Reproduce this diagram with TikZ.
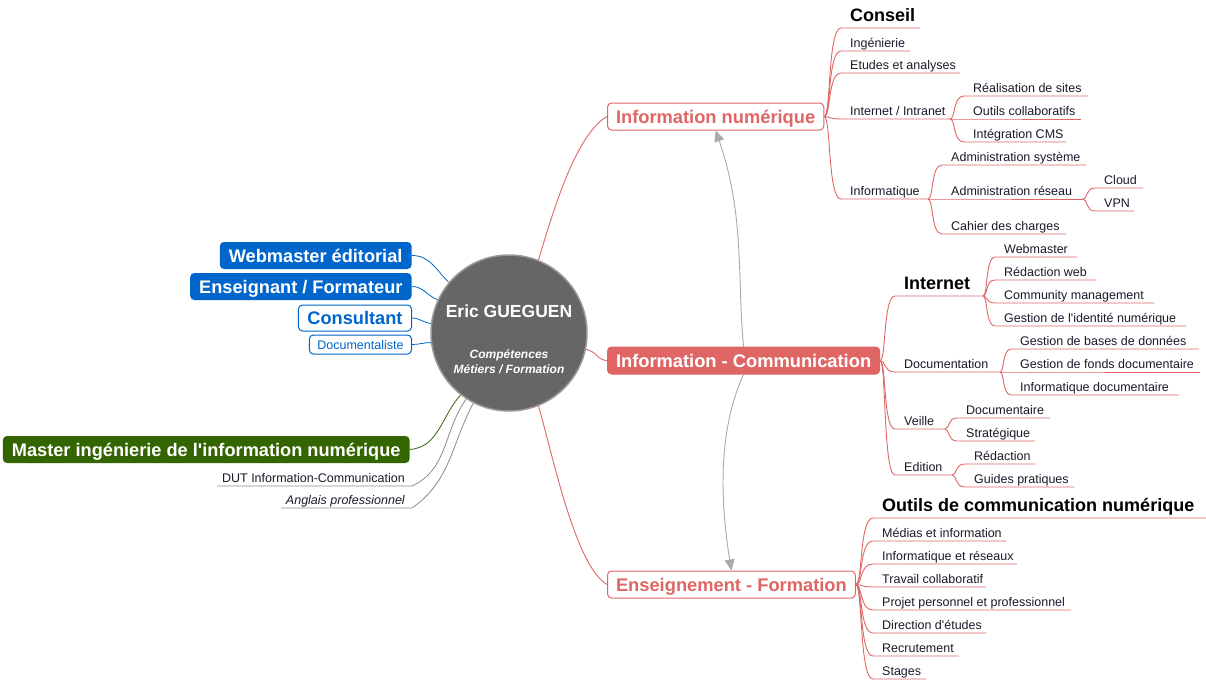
\documentclass[tikz,border=0pt]{standalone}
\usepackage{fontspec}
\setmainfont{Liberation Sans}
\usetikzlibrary{calc,arrows.meta}
\definecolor{mmred}{HTML}{E06666}
\definecolor{mmblue}{HTML}{0066CC}
\definecolor{mmgreen}{HTML}{336600}
\definecolor{mmgray}{HTML}{666666}
\definecolor{linegray}{HTML}{8C8C8C}
\definecolor{arrowgray}{HTML}{AAAAAA}
\definecolor{ringgray}{HTML}{9A9A9A}
\definecolor{leaftext}{HTML}{1A1A2A}
\pgfdeclarelayer{bg}
\pgfsetlayers{bg,main}
\tikzset{
  leaf/.style={inner sep=0pt, font=\fontsize{12.5}{15}\selectfont, text=leaftext},
  headleaf/.style={inner sep=0pt, font=\fontsize{18}{21}\selectfont\bfseries, text=black, yshift=3pt},
  branch/.style={draw=mmred, line width=0.9pt},
  mainbox/.style={rounded corners=4pt, minimum height=27pt, inner xsep=8.5pt, inner ysep=0pt,
    text height=13pt, text depth=0pt,
    font=\fontsize{18.3}{21}\selectfont\bfseries, line width=1pt, draw=mmred},
  lbox/.style={rounded corners=4pt, minimum height=27pt, inner xsep=9pt, inner ysep=0pt,
    text height=13pt, text depth=0pt,
    font=\fontsize{18.2}{21}\selectfont\bfseries, line width=1pt, anchor=east},
  blueconn/.style={draw=mmblue, line width=0.8pt},
  grayconn/.style={draw=linegray, line width=0.8pt},
  arrowline/.style={draw=arrowgray, line width=0.9pt, -{Triangle[length=11pt,width=10pt]}},
}
\newcommand\leafnode[7]{%
  \node[#2, anchor=base west] (#1) at (#3,#4-4) {#6};
  \coordinate (#1-s) at (#3-9,#4);
  \coordinate (#1-e) at (#5,#4);
  \begin{pgfonlayer}{bg}
  \draw[branch] (#7) .. controls ($(#7)!0.4!(#7 -| #1-s)$) and ($(#7 |- #1-s)!0.2!(#1-s)$) .. (#1-s) -- (#1-e);
  \end{pgfonlayer}
}
\begin{document}
\begin{tikzpicture}[x=1pt,y=-1pt]
\begin{pgfonlayer}{bg}
\fill[white] (0,0) rectangle (1206,680);
\end{pgfonlayer}
\useasboundingbox (0,0) rectangle (1206,680);

% centre
\node[circle, fill=mmgray, draw=ringgray, line width=1.5pt, minimum size=156pt, inner sep=0pt] (c) at (509,333) {};
\node[font=\fontsize{17.5}{20}\selectfont\bfseries, text=white] (cname) at (509,311) {Eric GUEGUEN};
\node[font=\fontsize{12}{15}\selectfont\bfseries\itshape, text=white, align=center] (csub) at (509,361.5) {Compétences\\Métiers / Formation};

% left boxes
\node[lbox, fill=mmblue, text=white] (wm) at (412,255.5) {Webmaster éditorial};
\node[lbox, fill=mmblue, text=white] (ensf) at (412,286.5) {Enseignant / Formateur};
\node[lbox, fill=white, draw=mmblue, text=mmblue, minimum height=26pt] (cons) at (412,318) {Consultant};
\node[lbox, fill=white, draw=mmblue, text=mmblue, minimum height=19pt, inner xsep=8pt,
  text height=9pt, font=\fontsize{12.5}{15}\selectfont] (docl) at (412,344.5) {Documentaliste};
\node[lbox, fill=mmgreen, text=white] (master) at (410,449.5) {Master ingénierie de l\textquotesingle information numérique};
\node[leaf, anchor=base east] (dut) at (405,482) {DUT Information-Communication};
\coordinate (dut-s) at (217,486);
\coordinate (dut-e) at (412,486);
\node[leaf, anchor=base east, font=\fontsize{12.5}{15}\selectfont\itshape] (ang) at (405,504) {Anglais professionnel};
\coordinate (ang-s) at (281,508);
\coordinate (ang-e) at (412,508);

% main boxes
\node[mainbox, fill=white, text=mmred, anchor=west] (inum) at (607,116.5) {Information numérique};
\node[mainbox, fill=mmred, text=white, anchor=west] (icom) at (607,360.5) {Information - Communication};
\node[mainbox, fill=white, text=mmred, anchor=west] (ens) at (607,584.5) {Enseignement - Formation};

\begin{pgfonlayer}{bg}
\draw[blueconn] (wm.east) to[out=0,in=135] (c.140);
\draw[blueconn] (ensf.east) to[out=0,in=160] (c.155);
\draw[blueconn] (cons.east) to[out=0,in=175] (c.173);
\draw[blueconn] (docl.east) to[out=0,in=180] (c.187);
\draw[draw=mmgreen, line width=0.8pt] (master.east) to[out=5,in=228] (c.232);
\draw[grayconn] (dut-s) -- (dut-e) to[out=25,in=235] (c.237);
\draw[grayconn] (ang-s) -- (ang-e) to[out=35,in=242] (c.243);
\draw[branch] (c.68) .. controls (552,215) and (575,135) .. (inum.west);
\draw[branch] (c.-12) .. controls (596,351) and (598,360.5) .. (icom.west);
\draw[branch] (c.-68) .. controls (552,452) and (575,566) .. (ens.west);
\end{pgfonlayer}

% Information numerique
\leafnode{conseil}{headleaf}{850}{28}{920}{Conseil}{inum.east}
\leafnode{inge}{leaf}{850}{51}{910}{Ingénierie}{inum.east}
\leafnode{etudes}{leaf}{850}{73}{960}{Etudes et analyses}{inum.east}
\leafnode{intra}{leaf}{850}{119}{950}{Internet / Intranet}{inum.east}
\leafnode{real}{leaf}{973}{96}{1088}{Réalisation de sites}{intra-e}
\leafnode{outils}{leaf}{973}{119}{1081}{Outils collaboratifs}{intra-e}
\leafnode{cms}{leaf}{973}{142}{1066}{Intégration CMS}{intra-e}
\leafnode{infor}{leaf}{850}{199}{928}{Informatique}{inum.east}
\leafnode{asys}{leaf}{951}{165}{1086}{Administration système}{infor-e}
\leafnode{ares}{leaf}{951}{199}{1083}{Administration réseau}{infor-e}
\leafnode{cloud}{leaf}{1104}{188}{1143}{Cloud}{ares-e}
\leafnode{vpn}{leaf}{1104}{211}{1134}{VPN}{ares-e}
\leafnode{cahier}{leaf}{951}{234}{1066}{Cahier des charges}{infor-e}

% Information - Communication
\leafnode{internet}{headleaf}{904}{296}{983}{Internet}{icom.east}
\leafnode{webm}{leaf}{1004}{257}{1077}{Webmaster}{internet-e}
\leafnode{redweb}{leaf}{1004}{280}{1096}{Rédaction web}{internet-e}
\leafnode{comm}{leaf}{1004}{303}{1154}{Community management}{internet-e}
\leafnode{ident}{leaf}{1004}{326}{1186}{Gestion de l\textquotesingle identité numérique}{internet-e}
\leafnode{docu}{leaf}{904}{372}{1000}{Documentation}{icom.east}
\leafnode{gbdd}{leaf}{1020}{349}{1199}{Gestion de bases de données}{docu-e}
\leafnode{gfonds}{leaf}{1020}{372}{1200}{Gestion de fonds documentaire}{docu-e}
\leafnode{idoc}{leaf}{1020}{395}{1179}{Informatique documentaire}{docu-e}
\leafnode{veille}{leaf}{904}{429}{945}{Veille}{icom.east}
\leafnode{vdoc}{leaf}{966}{418}{1050}{Documentaire}{veille-e}
\leafnode{vstrat}{leaf}{966}{441}{1035}{Stratégique}{veille-e}
\leafnode{edition}{leaf}{904}{475}{952}{Edition}{icom.east}
\leafnode{redac}{leaf}{974}{464}{1035}{Rédaction}{edition-e}
\leafnode{guides}{leaf}{974}{487}{1074}{Guides pratiques}{edition-e}

% Enseignement - Formation
\leafnode{outilsc}{headleaf}{882}{518}{1206}{Outils de communication numérique}{ens.east}
\leafnode{medias}{leaf}{882}{541}{1006}{Médias et information}{ens.east}
\leafnode{infres}{leaf}{882}{564}{1017}{Informatique et réseaux}{ens.east}
\leafnode{travail}{leaf}{882}{587}{986}{Travail collaboratif}{ens.east}
\leafnode{projet}{leaf}{882}{610}{1071}{Projet personnel et professionnel}{ens.east}
\leafnode{direction}{leaf}{882}{633}{986}{Direction d\textquotesingle études}{ens.east}
\leafnode{recrut}{leaf}{882}{656}{959}{Recrutement}{ens.east}
\leafnode{stages}{leaf}{882}{679}{926}{Stages}{ens.east}

% relation arrows
\draw[arrowline] (icom.north) .. controls (737,280) and (745,215) .. (inum.south);
\draw[arrowline] (icom.south) .. controls (718,430) and (720,500) .. (ens.north);
\end{tikzpicture}
\end{document}
